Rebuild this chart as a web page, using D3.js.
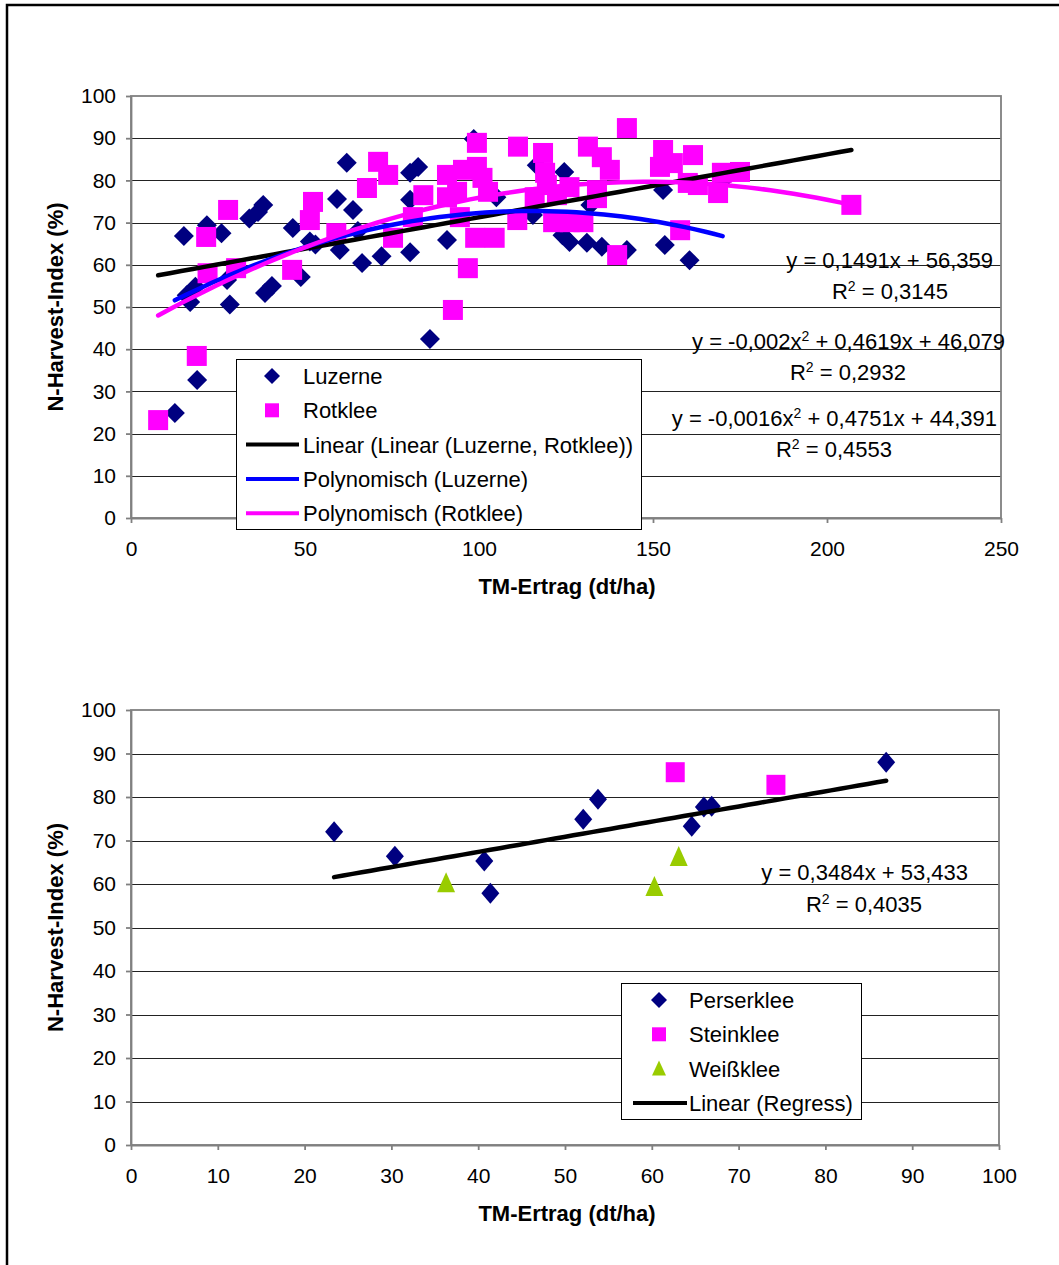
<!DOCTYPE html>
<html><head><meta charset="utf-8">
<script src="https://cdn.jsdelivr.net/npm/d3@7"></script>
<style>
body{margin:0;background:#fff}
text{font-family:"Liberation Sans",Arial,sans-serif;fill:#000}
</style>
</head><body>
<svg id="c" width="1059" height="1265"></svg>
<script>
// ---------- DATA ----------
const luzerne = [
[12.6,24.9],[15.2,66.8],[16,52.8],[17,51.2],[18.5,54.8],[19,32.7],[21.8,69.4],[26,67.5],
[27.6,56.4],[28.4,50.6],[34,71],[36.5,72.5],[38,74.2],[38.5,53.3],[40.5,55],[46.5,68.7],
[48.8,57.1],[51.4,65.5],[53,64.8],[59.2,75.6],[60,63.5],[62,84.2],[63.8,73],[65.2,68],
[66.4,60.4],[72,62],[80.2,81.8],[82.5,83.2],[80.2,75.4],[80.2,63],[85.9,42.4],[90.8,65.9],
[98.5,89.8],[98,82.5],[105,76],[115.5,71.8],[116.6,83.6],[124.5,82],[124,67],[126,65.4],
[131,65.2],[132,74.2],[135.3,64.3],[142.5,63.5],[152.9,77.7],[153.4,64.7],[160.5,61.1],[170,80]
];
const rotklee = [
[7.8,23.2],[18.9,38.4],[21.6,66.6],[22,58],[27.9,73],[30.2,59.2],[46.3,58.8],[51.4,70.6],
[52.3,74.9],[59,67.5],[67.8,78.2],[71,84.4],[73.9,81.3],[75.3,66.4],[81,71.3],[84,76.5],
[90.8,81.3],[90.8,76],[92.5,49.3],[93.7,77.3],[94.5,71.3],[95.4,82.5],[96.8,59.2],[98.9,66.4],
[99.4,88.9],[99.4,83.2],[101,80.6],[102.6,77.3],[104.5,66.4],[111,70.6],[111.2,88],[116,76],
[118.4,86.5],[119,81.8],[119.5,78.9],[121.3,70.1],[122.4,76.5],[126,78.4],[126.1,70.1],[130,70.1],
[131.3,88],[133.9,77.7],[133.9,75.8],[135.3,85.5],[137.6,82.5],[139.7,62.3],[142.5,92.4],[152,83.2],
[152.9,87.2],[155.7,84.1],[157.8,68.2],[160,79.4],[161.5,86],[162.9,78.9],[168.7,77],[169.8,81.8],
[175,82],[207,74.2]
];
const perserklee = [[23.4,72],[30.4,66.4],[40.7,65.3],[41.4,57.9],[52.1,74.9],[53.8,79.5],[64.6,73.3],[66,77.7],[66.9,77.9],[87,88]];
const steinklee = [[62.7,85.7],[74.3,82.8]];
const weissklee = [[36.3,60.2],[60.3,59.3],[63.1,66.2]];

const topXTicks = [0,50,100,150,200,250];
const yTicks = [0,10,20,30,40,50,60,70,80,90,100];
const botXTicks = [0,10,20,30,40,50,60,70,80,90,100];

// trendline coefficients [c2, c1, c0]
const linTop = [0, 0.1491, 56.359];
const polyLuz = [-0.002, 0.4619, 46.079];
const polyRot = [-0.0016, 0.4751, 44.391];
const linBot = [0, 0.3484, 53.433];

const legendTop = ["Luzerne","Rotklee","Linear (Linear (Luzerne, Rotklee))","Polynomisch (Luzerne)","Polynomisch (Rotklee)"];
const legendBot = ["Perserklee","Steinklee","Weißklee","Linear (Regress)"];

// ---------- DRAW ----------
const svg = d3.select("#c");
const NAVY="#000080", MAG="#FF00FF", GREEN="#99CC00", BLUE="#0000FF";
const FS = 21, FL = 22, FT = 22;

svg.append("path").attr("d","M7,1265 L7,5 L1062,5").attr("fill","none").attr("stroke","#000").attr("stroke-width",2.5);

function diamond(cx,cy,w,h){return `M${cx},${cy-h} L${cx+w},${cy} L${cx},${cy+h} L${cx-w},${cy} Z`;}

function panel(o){
  const x = d3.scaleLinear().domain(o.xd).range([o.x0,o.x1]);
  const y = d3.scaleLinear().domain([0,100]).range([o.y1,o.y0]);
  const g = svg.append("g");
  g.selectAll(".grid").data(yTicks.filter(t=>t>0&&t<100)).join("line")
    .attr("x1",o.x0).attr("x2",o.x1).attr("y1",d=>Math.round(y(d))+0.5).attr("y2",d=>Math.round(y(d))+0.5)
    .attr("stroke","#222").attr("stroke-width",1);
  g.append("rect").attr("x",o.x0).attr("y",o.y0).attr("width",o.x1-o.x0).attr("height",o.y1-o.y0)
    .attr("fill","none").attr("stroke","#808080").attr("stroke-width",1.8);
  const ay = g.append("g").attr("transform",`translate(${o.x0},0)`)
    .call(d3.axisLeft(y).tickValues(yTicks).tickSizeInner(5).tickSizeOuter(0).tickPadding(10));
  const ax = g.append("g").attr("transform",`translate(0,${o.y1})`)
    .call(d3.axisBottom(x).tickValues(o.xt).tickSizeInner(5).tickSizeOuter(0).tickPadding(18));
  [ay,ax].forEach(a=>{
    a.selectAll("path,line").attr("stroke","#808080").attr("stroke-width",1.8);
    a.selectAll("text").attr("font-size",FS).attr("font-family","Liberation Sans, Arial, sans-serif").attr("fill","#000");
  });
  g.append("text").attr("transform",`translate(${o.ylx},${(o.y0+o.y1)/2}) rotate(-90)`)
    .attr("text-anchor","middle").attr("dy","0.35em").attr("font-size",FT).attr("font-weight","bold").text("N-Harvest-Index (%)");
  g.append("text").attr("x",567).attr("y",o.y1+76).attr("text-anchor","middle")
    .attr("font-size",FT).attr("font-weight","bold").text("TM-Ertrag (dt/ha)");
  return {x,y,g};
}

function curve(p,x,y,c,xs,color,w){
  const [lo,hi]=d3.extent(xs);
  const pts=d3.range(0,61).map(i=>{const v=lo+(hi-lo)*i/60;return [v,c[0]*v*v+c[1]*v+c[2]];});
  p.append("path").datum(pts).attr("d",d3.line().x(d=>x(d[0])).y(d=>y(d[1])))
    .attr("fill","none").attr("stroke",color).attr("stroke-width",w).attr("stroke-linecap","round");
}

function eq(g,xpos,ypos,anchor,parts){
  const t=g.append("text").attr("x",xpos).attr("y",ypos).attr("text-anchor",anchor).attr("font-size",FL);
  parts.forEach(p=>{
    if(typeof p==="string") t.append("tspan").text(p);
    else t.append("tspan").attr("baseline-shift","super").attr("font-size",14).text(p.sup);
  });
}

// ---- TOP ----
const T = panel({xd:[0,250],x0:131,x1:1001,y0:96,y1:518,xt:topXTicks,ylx:55});
T.g.selectAll(".luz").data(luzerne).join("path").attr("d",d=>diamond(T.x(d[0]),T.y(d[1]),10,10)).attr("fill",NAVY);
T.g.selectAll(".rot").data(rotklee).join("rect").attr("x",d=>T.x(d[0])-10).attr("y",d=>T.y(d[1])-10)
  .attr("width",20).attr("height",20).attr("fill",MAG);
const allX = luzerne.concat(rotklee).map(d=>d[0]);
curve(T.g,T.x,T.y,linTop,allX,"#000",4.5);
curve(T.g,T.x,T.y,polyLuz,luzerne.map(d=>d[0]),BLUE,4.5);
curve(T.g,T.x,T.y,polyRot,rotklee.map(d=>d[0]),MAG,4.5);

eq(T.g,993,268,"end",["y = 0,1491x + 56,359"]);
eq(T.g,890,299,"middle",["R",{sup:"2"}," = 0,3145"]);
eq(T.g,1005,349,"end",["y = -0,002x",{sup:"2"}," + 0,4619x + 46,079"]);
eq(T.g,848,380,"middle",["R",{sup:"2"}," = 0,2932"]);
eq(T.g,997,426,"end",["y = -0,0016x",{sup:"2"}," + 0,4751x + 44,391"]);
eq(T.g,834,457,"middle",["R",{sup:"2"}," = 0,4553"]);

const LT = T.g.append("g");
LT.append("rect").attr("x",236.5).attr("y",359.5).attr("width",405).attr("height",170).attr("fill","#fff").attr("stroke","#000").attr("stroke-width",1);
const rowsT = legendTop.map((d,i)=>({t:d,y:376+i*34.3}));
LT.selectAll("text").data(rowsT).join("text").attr("x",303).attr("y",d=>d.y).attr("dy","0.36em").attr("font-size",FL).text(d=>d.t);
LT.append("path").attr("d",diamond(272,rowsT[0].y,8,8)).attr("fill",NAVY);
LT.append("rect").attr("x",265).attr("y",rowsT[1].y-7).attr("width",14).attr("height",14).attr("fill",MAG);
[["#000",2],[BLUE,3],[MAG,4]].forEach(([c,i])=>{
  LT.append("line").attr("x1",246).attr("x2",299).attr("y1",rowsT[i].y).attr("y2",rowsT[i].y).attr("stroke",c).attr("stroke-width",4);
});

// ---- BOTTOM ----
const B = panel({xd:[0,100],x0:131,x1:999,y0:710,y1:1145,xt:botXTicks,ylx:55});
B.g.selectAll(".per").data(perserklee).join("path").attr("d",d=>diamond(B.x(d[0]),B.y(d[1]),9,10.5)).attr("fill",NAVY);
B.g.selectAll(".ste").data(steinklee).join("rect").attr("x",d=>B.x(d[0])-9.5).attr("y",d=>B.y(d[1])-10)
  .attr("width",19).attr("height",20).attr("fill",MAG);
B.g.selectAll(".wei").data(weissklee).join("path")
  .attr("d",d=>{const cx=B.x(d[0]),cy=B.y(d[1]);return `M${cx},${cy-11} L${cx+9},${cy+9} L${cx-9},${cy+9} Z`;}).attr("fill",GREEN);
curve(B.g,B.x,B.y,linBot,perserklee.map(d=>d[0]),"#000",4.5);
eq(B.g,968,880,"end",["y = 0,3484x + 53,433"]);
eq(B.g,864,912,"middle",["R",{sup:"2"}," = 0,4035"]);

const LB = B.g.append("g");
LB.append("rect").attr("x",621.5).attr("y",983.5).attr("width",240).attr("height",136).attr("fill","#fff").attr("stroke","#000").attr("stroke-width",1);
const rowsB = legendBot.map((d,i)=>({t:d,y:1000+i*34.3}));
LB.selectAll("text").data(rowsB).join("text").attr("x",689).attr("y",d=>d.y).attr("dy","0.36em").attr("font-size",FL).text(d=>d.t);
LB.append("path").attr("d",diamond(659,rowsB[0].y,8,8)).attr("fill",NAVY);
LB.append("rect").attr("x",652).attr("y",rowsB[1].y-7).attr("width",14).attr("height",14).attr("fill",MAG);
LB.append("path").attr("d",`M659,${rowsB[2].y-8} L666,${rowsB[2].y+7} L652,${rowsB[2].y+7} Z`).attr("fill",GREEN);
LB.append("line").attr("x1",633).attr("x2",687).attr("y1",rowsB[3].y).attr("y2",rowsB[3].y).attr("stroke","#000").attr("stroke-width",4);
</script>
</body></html>
